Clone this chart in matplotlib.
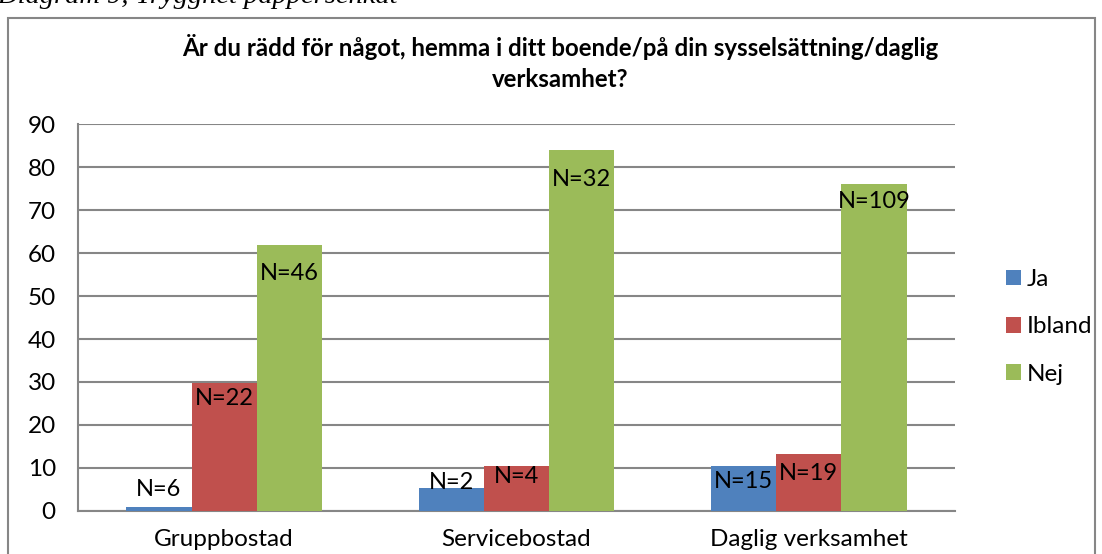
import matplotlib.pyplot as plt
import numpy as np
from matplotlib.patches import Rectangle

categories = ["Gruppbostad", "Servicebostad", "Daglig verksamhet"]
series = ["Ja", "Ibland", "Nej"]
ja = [0.9, 5.4, 10.5]
ibland = [29.7, 10.5, 13.2]
nej = [61.9, 84.1, 76.2]
ja_n = ["N=6", "N=2", "N=15"]
ibland_n = ["N=22", "N=4", "N=19"]
nej_n = ["N=46", "N=32", "N=109"]
yticks = [0, 10, 20, 30, 40, 50, 60, 70, 80, 90]

colors = ["#4F81BD", "#C0504D", "#9BBB59"]
# label offsets from bar top, in pixels (negative = below the top)
offsets = [[17, 5, -16], [-15, -11, -19], [-28, -30, -18]]

plt.rcParams['font.family'] = ['Lato', 'DejaVu Sans']

fig = plt.figure(figsize=(11.02, 5.54), dpi=100)
ax = fig.add_axes([0.0708, 0.0782, 0.7958, 0.6971])

x = np.arange(len(categories))
w = 0.223
values = [ja, ibland, nej]
labels = [ja_n, ibland_n, nej_n]
for i, (vals, labs) in enumerate(zip(values, labels)):
    pos = x + (i - 1) * w
    ax.bar(pos, vals, w, color=colors[i], label=series[i], zorder=3)
    for j, (p, v, t) in enumerate(zip(pos, vals, labs)):
        ax.annotate(t, (p, v), xytext=(0, offsets[i][j] * 0.72),
                    textcoords="offset points", ha="center", va="center",
                    fontsize=17, zorder=4)

ax.set_xlim(-0.5, 2.5)
ax.set_ylim(0, 90)
ax.set_yticks(yticks)
ax.set_xticks(x)
ax.set_xticklabels(categories)
ax.tick_params(axis="y", length=0, pad=16, labelsize=17.5)
ax.tick_params(axis="x", length=0, pad=13, labelsize=17.5)
ax.grid(axis="y", color="#868686", linewidth=1.5, zorder=0)
for s in ["top", "right"]:
    ax.spines[s].set_visible(False)
for s in ["left", "bottom"]:
    ax.spines[s].set_color("#868686")
    ax.spines[s].set_linewidth(1.5)

leg = fig.legend(loc="center left", bbox_to_anchor=(0.893, 0.41), frameon=False,
                 fontsize=17.5, handlelength=0.6, handleheight=0.6,
                 handletextpad=0.25, labelspacing=1.08)

fig.text(0.508, 0.916, "Är du rädd för något, hemma i ditt boende/på din sysselsättning/daglig",
         ha="center", va="center", fontsize=17.3, fontweight="bold")
fig.text(0.508, 0.856, "verksamhet?", ha="center", va="center", fontsize=17.3,
         fontweight="bold")

# cropped caption above the chart frame
fig.text(-0.002, 1.006, "Diagram 9, Trygghet pappersenkät", ha="left", va="center",
         fontsize=20.5, fontstyle="italic", family="Liberation Serif")

fig.patches.append(Rectangle((8 / 1102, -0.05), 1087 / 1102, 1 - 18 / 554 + 0.05,
                             transform=fig.transFigure, fill=False,
                             edgecolor="#868686", linewidth=1.5))

fig.savefig("out.png", dpi=100)
